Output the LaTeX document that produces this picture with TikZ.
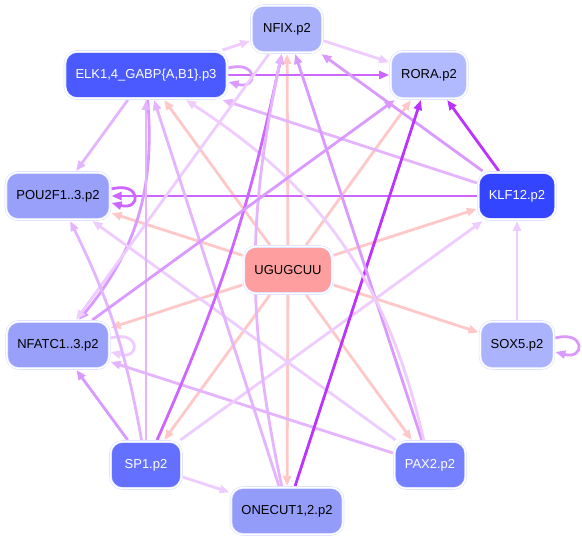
\documentclass[tikz,border=0pt]{standalone}
\usepackage{fontspec}
\setmainfont{Liberation Sans}
\usepackage{tikz}
\usetikzlibrary{arrows.meta, backgrounds}
\definecolor{ringline}{HTML}{DCE0FF}
\definecolor{motifbg}{HTML}{FF9E9E}
\definecolor{tfA}{HTML}{A9B1FA}
\definecolor{tfB}{HTML}{B1B9FF}
\definecolor{tfC}{HTML}{4A5AFF}
\definecolor{tfD}{HTML}{3445FF}
\definecolor{tfE}{HTML}{98A0FA}
\definecolor{tfF}{HTML}{ABB3FD}
\definecolor{tfG}{HTML}{6470FF}
\definecolor{tfH}{HTML}{7480FF}
\definecolor{tfI}{HTML}{949CFA}
\definecolor{pinkline}{HTML}{FFC8C8}
\definecolor{lavA}{HTML}{EECCFF}
\definecolor{lavB}{HTML}{E4B4FF}
\definecolor{lavC}{HTML}{DA99FF}
\definecolor{purA}{HTML}{CC66FF}
\definecolor{purB}{HTML}{BB33FF}
\tikzset{
  tf node/.style={
    draw=ringline, double=white, double distance=1.4pt, line width=0.6pt,
    rounded corners=12pt,
    minimum width=71pt, minimum height=47pt, inner xsep=10.5pt,
    font=\fontsize{13}{15}\selectfont,
    outer sep=1.5pt
  },
  reg/.style={-{Triangle[length=10pt,width=8pt]}, line width=2.8pt},
  motif reg/.style={reg, color=pinkline},
  weak/.style={reg, color=lavA},
  mid/.style={reg, color=lavB},
  firm/.style={reg, color=lavC},
  strong/.style={reg, color=purA},
  top/.style={reg, color=purB}
}
% small loop on the right side of a node
\newcommand{\selfloop}[2]{%
  \draw[#1] ([yshift=7pt]#2.east) .. controls +(30pt,8pt) and +(30pt,-8pt) .. ([yshift=-7pt]#2.east);}

\begin{document}
\begin{tikzpicture}[x=1pt, y=-1pt]
  \useasboundingbox (0,0) rectangle (582,540);

  % nodes
  \node[tf node, fill=tfA] (nfix) at (287,29) {NFIX.p2};
  \node[tf node, fill=tfB] (rora) at (429,75) {RORA.p2};
  \node[tf node, fill=tfC, text=white] (elk) at (146,75) {ELK1,4\_GABP\{A,B1\}.p3};
  \node[tf node, fill=tfE] (pou) at (58,196) {POU2F1..3.p2};
  \node[tf node, fill=tfD, text=white] (klf) at (517,196) {KLF12.p2};
  \node[tf node, fill=motifbg] (ugu) at (288,270) {UGUGCUU};
  \node[tf node, fill=tfE] (nfatc) at (58,345) {NFATC1..3.p2};
  \node[tf node, fill=tfF] (sox) at (517,345) {SOX5.p2};
  \node[tf node, fill=tfG, text=white] (sp1) at (146,465) {SP1.p2};
  \node[tf node, fill=tfH, text=white] (pax) at (430,465) {PAX2.p2};
  \node[tf node, fill=tfI] (onecut) at (287,511) {ONECUT1,2.p2};

  \begin{pgfonlayer}{background}
  % motif targets
  \foreach \t in {nfix, rora, elk, pou, klf, nfatc, sox, sp1, pax, onecut}
    \draw[motif reg] (ugu) -- (\t);

  % factor to factor
  \draw[weak] (elk) -- (nfix);
  \draw[strong] (elk) -- (rora);
  \selfloop{firm}{elk}
  \draw[weak] (nfix) -- (rora);
  \draw[firm] (klf) -- (nfix);
  \draw[top] (klf) -- (rora);
  \draw[mid] (klf) -- (elk);
  \draw[strong] (klf) -- (pou);
  \selfloop{strong}{pou}
  \draw[mid] (elk) -- (pou);
  \draw[firm] (elk) to[bend left=22] (nfatc);
  \draw[weak] (nfix) -- (nfatc);
  \selfloop{weak}{nfatc}
  \draw[firm] (sp1) -- (nfatc);
  \draw[mid] (pax) -- (nfatc);
  \draw[weak] (pax) -- (pou);
  \draw[mid] (sp1) to[bend right=8] (pou);
  \draw[weak] (sox) -- (klf);
  \selfloop{firm}{sox}
  \draw[weak] (sp1) -- (klf);
  \draw[weak] (sp1) -- (onecut);
  \draw[top] (onecut) -- (rora);
  \draw[firm] (pax) -- (nfix);
  \draw[weak] (pax) to[bend right=22] (elk);
  \draw[mid] (sp1) -- (elk);
  \draw[mid] (onecut) -- (elk);
  \draw[strong] (sp1) to[bend right=6] (nfix);
  \draw[mid] (onecut) to[bend left=12] (nfix);
  \draw[firm] (nfatc) -- (rora);
  \end{pgfonlayer}
\end{tikzpicture}
\end{document}
